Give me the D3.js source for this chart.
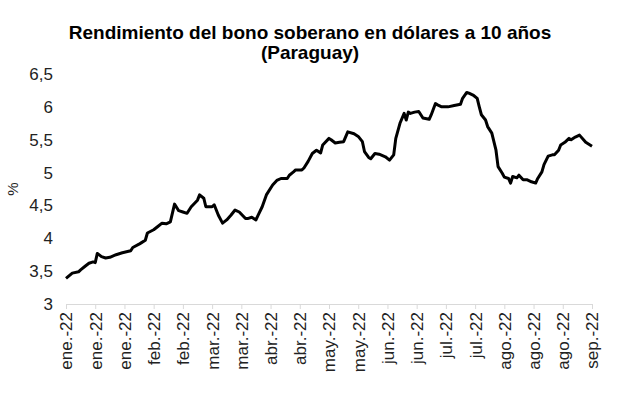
<!DOCTYPE html>
<html><head><meta charset="utf-8">
<script src="https://cdn.jsdelivr.net/npm/d3@7"></script>
<style>body{margin:0;background:#fff}svg{display:block}</style>
</head><body><svg id="c" width="617" height="398"></svg>
<script>
const titleLines = ["Rendimiento del bono soberano en dólares a 10 años", "(Paraguay)"];
const yLabel = "%";
const yTicks = [3, 3.5, 4, 4.5, 5, 5.5, 6, 6.5];
const monthNames = ["ene.", "feb.", "mar.", "abr.", "may.", "jun.", "jul.", "ago.", "sep.", "oct.", "nov.", "dic."];
const xTickDates = ["2022-01-03","2022-01-17","2022-01-31","2022-02-14","2022-02-28","2022-03-14","2022-03-28","2022-04-11","2022-04-25","2022-05-09","2022-05-23","2022-06-06","2022-06-20","2022-07-04","2022-07-18","2022-08-01","2022-08-15","2022-08-29","2022-09-12"];
const dates = ["2022-01-03","2022-01-06","2022-01-09","2022-01-10","2022-01-12","2022-01-14","2022-01-16","2022-01-17","2022-01-18","2022-01-20","2022-01-22","2022-01-24","2022-01-27","2022-01-30","2022-02-03","2022-02-04","2022-02-07","2022-02-08","2022-02-10","2022-02-11","2022-02-14","2022-02-16","2022-02-18","2022-02-20","2022-02-22","2022-02-24","2022-02-26","2022-02-28","2022-03-02","2022-03-04","2022-03-07","2022-03-08","2022-03-10","2022-03-11","2022-03-14","2022-03-15","2022-03-17","2022-03-19","2022-03-21","2022-03-23","2022-03-25","2022-03-27","2022-03-30","2022-03-31","2022-04-02","2022-04-04","2022-04-05","2022-04-07","2022-04-09","2022-04-12","2022-04-14","2022-04-16","2022-04-19","2022-04-20","2022-04-22","2022-04-23","2022-04-26","2022-04-27","2022-04-29","2022-05-01","2022-05-03","2022-05-05","2022-05-06","2022-05-09","2022-05-10","2022-05-12","2022-05-14","2022-05-16","2022-05-18","2022-05-21","2022-05-23","2022-05-25","2022-05-26","2022-05-28","2022-05-29","2022-05-31","2022-06-02","2022-06-05","2022-06-07","2022-06-09","2022-06-10","2022-06-12","2022-06-14","2022-06-15","2022-06-16","2022-06-17","2022-06-19","2022-06-21","2022-06-23","2022-06-26","2022-06-27","2022-06-29","2022-06-30","2022-07-02","2022-07-05","2022-07-08","2022-07-11","2022-07-12","2022-07-14","2022-07-15","2022-07-17","2022-07-19","2022-07-20","2022-07-21","2022-07-23","2022-07-24","2022-07-26","2022-07-28","2022-07-29","2022-07-31","2022-08-01","2022-08-03","2022-08-04","2022-08-05","2022-08-07","2022-08-08","2022-08-10","2022-08-12","2022-08-14","2022-08-16","2022-08-17","2022-08-19","2022-08-20","2022-08-22","2022-08-24","2022-08-25","2022-08-27","2022-08-28","2022-08-30","2022-09-01","2022-09-02","2022-09-04","2022-09-06","2022-09-09","2022-09-12"];
const values = [3.39,3.47,3.49,3.52,3.57,3.62,3.64,3.63,3.77,3.72,3.70,3.71,3.75,3.78,3.81,3.86,3.91,3.93,3.97,4.08,4.13,4.18,4.23,4.22,4.25,4.52,4.42,4.40,4.38,4.48,4.58,4.66,4.61,4.48,4.48,4.51,4.35,4.23,4.28,4.35,4.43,4.40,4.30,4.30,4.32,4.28,4.35,4.48,4.66,4.81,4.88,4.91,4.91,4.96,5.01,5.04,5.04,5.07,5.17,5.29,5.34,5.30,5.42,5.52,5.50,5.45,5.46,5.47,5.62,5.59,5.55,5.47,5.32,5.23,5.21,5.29,5.28,5.24,5.19,5.27,5.52,5.75,5.90,5.80,5.92,5.90,5.92,5.93,5.83,5.81,5.88,6.05,6.03,6.00,6.00,6.02,6.04,6.13,6.22,6.21,6.18,6.13,6.00,5.88,5.80,5.70,5.60,5.34,5.09,4.99,4.93,4.91,4.84,4.94,4.92,4.96,4.89,4.89,4.86,4.84,4.91,5.01,5.12,5.25,5.27,5.27,5.34,5.42,5.46,5.52,5.50,5.54,5.57,5.46,5.40];

const parse = d3.utcParse("%Y-%m-%d");
const data = dates.map((d, i) => ({date: parse(d), value: values[i]}));
const tickDates = xTickDates.map(parse);

const svg = d3.select("#c");
const font = "'Liberation Sans', Arial, sans-serif";
const x = d3.scaleUtc().domain([tickDates[0], tickDates[tickDates.length - 1]]).range([66, 592]);
const y = d3.scaleLinear().domain([3, 6.5]).range([304, 74]);

// title
svg.append("text").attr("x", 310).attr("y", 39).attr("text-anchor", "middle")
  .attr("font-family", font).attr("font-weight", "bold").attr("font-size", 19).attr("fill", "#000")
  .text(titleLines[0]);
svg.append("text").attr("x", 310).attr("y", 59).attr("text-anchor", "middle")
  .attr("font-family", font).attr("font-weight", "bold").attr("font-size", 19).attr("fill", "#000")
  .text(titleLines[1]);

// y axis
const yAxis = d3.axisLeft(y).tickValues(yTicks).tickSize(0).tickPadding(12)
  .tickFormat(d => d3.format("")(d).replace(".", ","));
const gy = svg.append("g").attr("transform", "translate(65,0)").call(yAxis);
gy.select(".domain").remove();
gy.selectAll("text").attr("font-family", font).attr("font-size", 17).attr("fill", "#222");

svg.append("text").attr("transform", "translate(18,189) rotate(-90)").attr("text-anchor", "middle")
  .attr("font-family", font).attr("font-size", 15).attr("fill", "#222").text(yLabel);

// x axis
const xAxis = d3.axisBottom(x).tickValues(tickDates).tickSize(5).tickSizeOuter(0).tickPadding(4)
  .tickFormat(d => monthNames[d.getUTCMonth()] + "-" + d3.utcFormat("%y")(d));
const gx = svg.append("g").attr("transform", "translate(0,304)").call(xAxis);
gx.select(".domain").attr("stroke", "#d9d9d9").attr("stroke-width", 1.2);
gx.selectAll(".tick line").attr("stroke", "#d9d9d9");
gx.selectAll("text").attr("font-family", font).attr("font-size", 17).attr("fill", "#222")
  .attr("text-anchor", "end").attr("transform", "rotate(-90)")
  .attr("x", -8).attr("y", 0).attr("dy", "0.35em");

// line
const line = d3.line().x(d => x(d.date)).y(d => y(d.value));
svg.append("path").datum(data).attr("d", line).attr("fill", "none")
  .attr("stroke", "#000").attr("stroke-width", 3).attr("stroke-linejoin", "round");
</script></body></html>
